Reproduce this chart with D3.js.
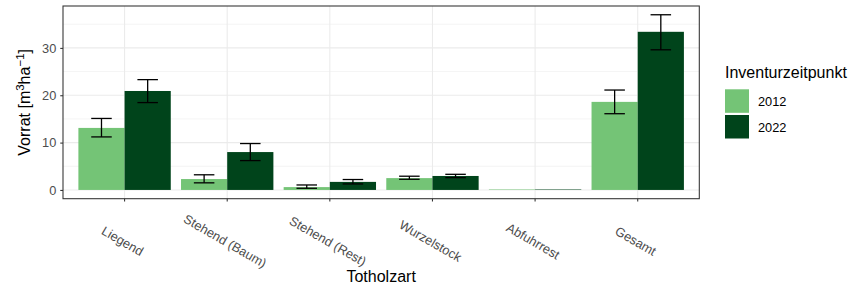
<!DOCTYPE html>
<html>
<head>
<meta charset="utf-8">
<script src="https://cdn.jsdelivr.net/npm/d3@7"></script>
<style>
  body { margin: 0; background: #fff; }
  svg text { font-family: "Liberation Sans", Arial, Helvetica, sans-serif; }
</style>
</head>
<body>
<div id="chart"></div>
<script>
const categories = ["Liegend", "Stehend (Baum)", "Stehend (Rest)", "Wurzelstock", "Abfuhrrest", "Gesamt"];
const years = ["2012", "2022"];
const vorrat2012 = [13.1, 2.3, 0.6, 2.5, 0.1, 18.6];
const vorrat2022 = [20.9, 8.0, 1.7, 2.95, 0.1, 33.4];
const lower2012 = [11.2, 1.5, 0.35, 2.25, null, 16.1];
const upper2012 = [15.1, 3.2, 1.05, 2.9, null, 21.1];
const lower2022 = [18.45, 6.2, 1.27, 2.6, null, 29.6];
const upper2022 = [23.3, 9.8, 2.2, 3.3, null, 37.0];
const yTicks = [0, 10, 20, 30];
const yMinor = [5, 15, 25, 35];
const colors = ["#74c476", "#00441b"];

const rows = [];
categories.forEach((c, i) => {
  rows.push({ cat: c, year: "2012", v: vorrat2012[i], lo: lower2012[i], hi: upper2012[i] });
  rows.push({ cat: c, year: "2022", v: vorrat2022[i], lo: lower2022[i], hi: upper2022[i] });
});

const W = 850, H = 287;
const panel = { left: 63, right: 699.3, top: 6, bottom: 198.7 };
const smallFont = "12.8px", titleFont = "16px";

const svg = d3.select("#chart").append("svg").attr("width", W).attr("height", H);

const x = d3.scaleBand()
  .domain(categories)
  .range([panel.left, panel.right])
  .paddingInner(0.1)
  .paddingOuter(0.15);
const xInner = d3.scaleBand().domain(years).range([0, x.bandwidth()]);

const yMax = d3.max(rows, r => r.hi == null ? r.v : r.hi);
const yMin = 0;
const span = yMax - yMin;
const y = d3.scaleLinear()
  .domain([yMin - 0.05 * span, yMax + 0.05 * span])
  .range([panel.bottom, panel.top]);

const color = d3.scaleOrdinal().domain(years).range(colors);

// grid
const grid = svg.append("g");
grid.selectAll(".minor").data(yMinor.filter(v => y(v) > panel.top)).join("line")
  .attr("x1", panel.left).attr("x2", panel.right)
  .attr("y1", d => y(d)).attr("y2", d => y(d))
  .attr("stroke", "#ebebeb").attr("stroke-width", 0.53);
grid.selectAll(".major").data(yTicks).join("line")
  .attr("x1", panel.left).attr("x2", panel.right)
  .attr("y1", d => y(d)).attr("y2", d => y(d))
  .attr("stroke", "#ebebeb").attr("stroke-width", 1.07);
grid.selectAll(".vmajor").data(categories).join("line")
  .attr("x1", d => x(d) + x.bandwidth() / 2).attr("x2", d => x(d) + x.bandwidth() / 2)
  .attr("y1", panel.top).attr("y2", panel.bottom)
  .attr("stroke", "#ebebeb").attr("stroke-width", 1.07);

// bars
svg.append("g").selectAll("rect").data(rows).join("rect")
  .attr("x", d => x(d.cat) + xInner(d.year))
  .attr("width", xInner.bandwidth())
  .attr("y", d => y(Math.max(0, d.v)))
  .attr("height", d => Math.abs(y(d.v) - y(0)))
  .attr("fill", d => color(d.year));

// error bars
const capW = x.step() * 0.2;
const eb = svg.append("g").selectAll("g").data(rows.filter(r => r.lo != null)).join("g")
  .attr("transform", d => `translate(${x(d.cat) + xInner(d.year) + xInner.bandwidth() / 2},0)`)
  .attr("stroke", "#000").attr("stroke-width", 1.3);
eb.append("line").attr("x1", 0).attr("x2", 0).attr("y1", d => y(d.lo)).attr("y2", d => y(d.hi));
eb.append("line").attr("x1", -capW / 2).attr("x2", capW / 2).attr("y1", d => y(d.lo)).attr("y2", d => y(d.lo));
eb.append("line").attr("x1", -capW / 2).attr("x2", capW / 2).attr("y1", d => y(d.hi)).attr("y2", d => y(d.hi));

// panel border
svg.append("rect")
  .attr("x", panel.left).attr("y", panel.top)
  .attr("width", panel.right - panel.left).attr("height", panel.bottom - panel.top)
  .attr("fill", "none").attr("stroke", "#333333").attr("stroke-width", 1.07);

// y axis
const yAxis = svg.append("g").attr("transform", `translate(${panel.left},0)`)
  .call(d3.axisLeft(y).tickValues(yTicks).tickSize(2.75).tickPadding(4));
yAxis.select(".domain").remove();
yAxis.selectAll("line").attr("stroke", "#333333").attr("stroke-width", 1.07);
yAxis.selectAll("text").attr("fill", "#4d4d4d").style("font-size", smallFont)
  .style("font-family", '"Liberation Sans", Arial, sans-serif');

// x axis
const xAxis = svg.append("g").attr("transform", `translate(0,${panel.bottom})`)
  .call(d3.axisBottom(x).tickSize(2.75).tickFormat(""));
xAxis.select(".domain").remove();
xAxis.selectAll("line").attr("stroke", "#333333").attr("stroke-width", 1.07);

svg.append("g").selectAll("text").data(categories).join("text")
  .attr("transform", d => `translate(${x(d) + x.bandwidth() / 2 - 2},241) rotate(30)`)
  .attr("text-anchor", "middle")
  .attr("dominant-baseline", "central")
  .attr("fill", "#4d4d4d")
  .style("font-size", smallFont)
  .text(d => d);

// axis titles
svg.append("text")
  .attr("x", (panel.left + panel.right) / 2).attr("y", 281.5)
  .attr("text-anchor", "middle").style("font-size", titleFont).attr("fill", "#000")
  .text("Totholzart");

const yt = svg.append("text")
  .attr("transform", `translate(30,${(panel.top + panel.bottom) / 2}) rotate(-90)`)
  .attr("text-anchor", "middle").style("font-size", titleFont).attr("fill", "#000");
yt.append("tspan").text("Vorrat [m");
yt.append("tspan").attr("dy", -6).style("font-size", "11.5px").text("3");
yt.append("tspan").attr("dy", 6).text("ha");
yt.append("tspan").attr("dy", -6).style("font-size", "11.5px").text("\u22121");
yt.append("tspan").attr("dy", 6).text("]");

// legend
const lg = svg.append("g").attr("transform", "translate(725,0)");
lg.append("text").attr("x", 0).attr("y", 78).style("font-size", titleFont).attr("fill", "#000")
  .text("Inventurzeitpunkt");
const item = lg.selectAll(".item").data(years).join("g")
  .attr("transform", (d, i) => `translate(0,${89.3 + i * 25.7})`);
item.append("rect").attr("width", 24).attr("height", 23.5).attr("fill", d => color(d));
item.append("text").attr("x", 33).attr("y", 12).attr("dominant-baseline", "central")
  .style("font-size", smallFont).attr("fill", "#000").text(d => d);
</script>
</body>
</html>
